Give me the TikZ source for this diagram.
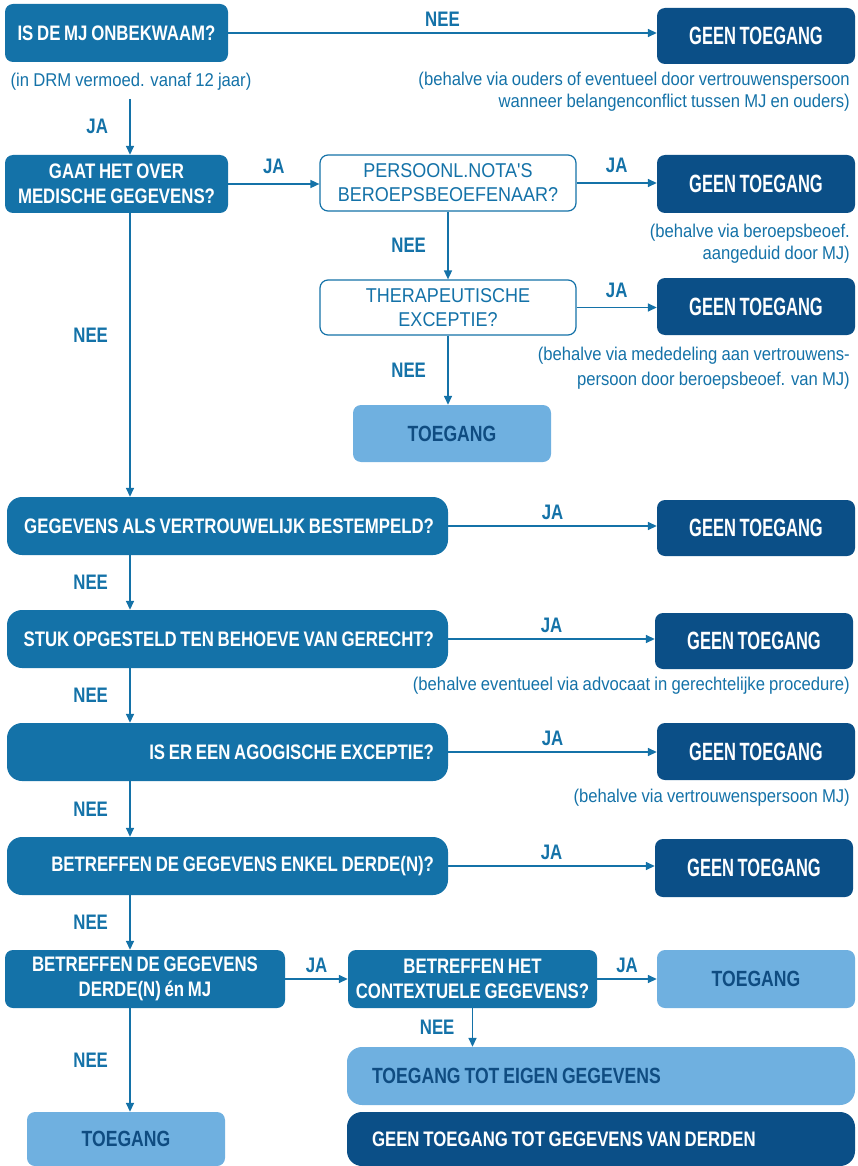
\documentclass[tikz,border=0pt]{standalone}
\usepackage{fontspec}
\usetikzlibrary{arrows.meta}
\newfontfamily\qfont{Liberation Sans}[FakeStretch=0.8, WordSpace=0.8]
\newfontfamily\gfont{Liberation Sans}[FakeStretch=0.66, WordSpace=0.8]
\newfontfamily\nfont{Liberation Sans}[FakeStretch=0.9, WordSpace=0.9]
\definecolor{qblue}{RGB}{20,114,168}
\definecolor{dblue}{RGB}{11,79,135}
\definecolor{lblue}{RGB}{111,176,224}
\definecolor{tblue}{RGB}{15,76,129}

\begin{document}
\begin{tikzpicture}[x=1pt,y=-1pt,
    qbox/.style={fill=qblue, text=white, rounded corners=8pt, inner sep=0pt, align=center,
      font=\qfont\bfseries\fontsize{21}{25}\selectfont},
    widebox/.style={qbox, rounded corners=15pt, minimum width=441pt, minimum height=58pt,
      inner xsep=14pt, text width=413pt, align=flush right},
    geen/.style={fill=dblue, text=white, rounded corners=8pt, inner sep=0pt,
      minimum width=198pt, font=\gfont\bfseries\fontsize{25}{28}\selectfont},
    toe/.style={fill=lblue, text=tblue, rounded corners=8pt, inner sep=0pt,
      minimum width=198pt, font=\qfont\bfseries\fontsize{22}{25}\selectfont},
    wbox/.style={draw=qblue, line width=1.2pt, fill=white, text=qblue, rounded corners=8pt,
      inner sep=0pt, align=center, minimum width=256pt,
      font=\nfont\fontsize{20}{24}\selectfont},
    lbl/.style={text=qblue, font=\qfont\bfseries\fontsize{21}{25}\selectfont},
    note/.style={text=qblue, align=right, inner sep=0pt, font=\nfont\fontsize{18.5}{22}\selectfont},
    arr/.style={draw=qblue, line width=1.5pt, -{Triangle[length=9pt,width=8pt]}}]

  \useasboundingbox (0,0) rectangle (857,1166);

  \node[qbox, minimum width=223pt, minimum height=58pt] (q1) at (116.5,33) {IS DE MJ ONBEKWAAM?};
  \node[geen, minimum height=56pt] (g1) at (756,36) {GEEN TOEGANG};
  \node[note, align=center] (drm) at (131,82) {(in DRM vermoed. vanaf 12 jaar)};
  \node[note, anchor=east] (g1n) at (850,92) {(behalve via ouders of eventueel door vertrouwenspersoon\\wanneer belangenconflict tussen MJ en ouders)};

  \node[qbox, minimum width=223pt, minimum height=58pt] (q2) at (116.5,184) {GAAT HET OVER\\MEDISCHE GEGEVENS?};
  \node[wbox, minimum height=56pt] (p1) at (448,183) {PERSOONL.NOTA'S\\BEROEPSBEOEFENAAR?};
  \node[geen, minimum height=58pt] (g2) at (756,184) {GEEN TOEGANG};
  \node[note, anchor=east] (g2n) at (850,244) {(behalve via beroepsbeoef.\\aangeduid door MJ)};

  \node[wbox, minimum height=55pt] (p2) at (448,307.5) {THERAPEUTISCHE\\EXCEPTIE?};
  \node[geen, minimum height=57pt] (g3) at (756,306.5) {GEEN TOEGANG};
  \node[note, anchor=east, font=\nfont\fontsize{18.5}{25}\selectfont] (g3n) at (850,368.5) {(behalve via mededeling aan vertrouwens-\\persoon door beroepsbeoef. van MJ)};
  \node[toe, minimum height=57pt] (t1) at (452,433.5) {TOEGANG};

  \node[widebox] (q3) at (227.5,526) {GEGEVENS ALS VERTROUWELIJK BESTEMPELD?};
  \node[geen, minimum height=56pt] (g4) at (756,528) {GEEN TOEGANG};

  \node[widebox] (q4) at (227.5,639) {STUK OPGESTELD TEN BEHOEVE VAN GERECHT?};
  \node[geen, minimum height=56pt] (g5) at (754,641) {GEEN TOEGANG};
  \node[note, anchor=east] (g5n) at (850,686) {(behalve eventueel via advocaat in gerechtelijke procedure)};

  \node[widebox] (q5) at (227.5,752) {IS ER EEN AGOGISCHE EXCEPTIE?};
  \node[geen, minimum height=57pt] (g6) at (756,751.5) {GEEN TOEGANG};
  \node[note, anchor=east] (g6n) at (850,798) {(behalve via vertrouwenspersoon MJ)};

  \node[widebox] (q6) at (227.5,866) {BETREFFEN DE GEGEVENS ENKEL DERDE(N)?};
  \node[geen, minimum height=58pt] (g7) at (754,868) {GEEN TOEGANG};

  \node[qbox, minimum width=280pt, minimum height=58pt] (q7) at (145,979) {BETREFFEN DE GEGEVENS\\DERDE(N) én MJ};
  \node[qbox, minimum width=249pt, minimum height=58pt] (q8) at (472.5,979) {BETREFFEN HET\\CONTEXTUELE GEGEVENS?};
  \node[toe, minimum height=58pt] (t2) at (756,979) {TOEGANG};
  \node[toe, rounded corners=15pt, minimum width=508pt, minimum height=58pt, inner xsep=25pt, text width=458pt, align=flush left] (t3) at (601,1076) {TOEGANG TOT EIGEN GEGEVENS};
  \node[geen, rounded corners=15pt, minimum width=508pt, minimum height=54pt, inner xsep=25pt, text width=458pt, align=flush left,
    font=\qfont\bfseries\fontsize{21}{25}\selectfont] (g8) at (601,1139) {GEEN TOEGANG TOT GEGEVENS VAN DERDEN};
  \node[toe, minimum height=54pt] (t4) at (126,1139) {TOEGANG};

  \coordinate (sp) at (130,0);

  \draw[arr] (q1.east) -- (q1.east -| g1.west) node[lbl, midway, above=2pt] {NEE};
  \draw[arr] (drm.south -| sp) ++(0,8) -- (q2.north -| sp) node[lbl, midway, left=18pt] {JA};
  \draw[arr] (q2.east) -- (q2.east -| p1.west) node[lbl, midway, above=6pt] {JA};
  \draw[arr] (p1.east) -- (p1.east -| g2.west) node[lbl, midway, above=6pt] {JA};
  \draw[arr] (p1.south) -- (p1.south |- p2.north) node[lbl, midway, left=18pt] {NEE};
  \draw[arr] (p2.east) -- (p2.east -| g3.west) node[lbl, midway, above=6pt] {JA};
  \draw[arr] (p2.south) -- (p2.south |- t1.north) node[lbl, midway, left=18pt] {NEE};
  \draw[arr] (q2.south -| sp) -- (q3.north -| sp) node[lbl, pos=0.43, left=18pt] {NEE};
  \draw[arr] (q3.east) -- (q3.east -| g4.west) node[lbl, midway, above=2pt] {JA};
  \draw[arr] (q3.south -| sp) -- (q4.north -| sp) node[lbl, midway, left=18pt] {NEE};
  \draw[arr] (q4.east) -- (q4.east -| g5.west) node[lbl, midway, above=2pt] {JA};
  \draw[arr] (q4.south -| sp) -- (q5.north -| sp) node[lbl, midway, left=18pt] {NEE};
  \draw[arr] (q5.east) -- (q5.east -| g6.west) node[lbl, midway, above=2pt] {JA};
  \draw[arr] (q5.south -| sp) -- (q6.north -| sp) node[lbl, midway, left=18pt] {NEE};
  \draw[arr] (q6.east) -- (q6.east -| g7.west) node[lbl, midway, above=2pt] {JA};
  \draw[arr] (q6.south -| sp) -- (q7.north -| sp) node[lbl, midway, left=18pt] {NEE};
  \draw[arr] (q7.east) -- (q8.west) node[lbl, midway, above=2pt] {JA};
  \draw[arr] (q8.east) -- (t2.west) node[lbl, midway, above=2pt] {JA};
  \draw[arr] (q8.south) -- (q8.south |- t3.north) node[lbl, midway, left=14pt] {NEE};
  \draw[arr] (q7.south -| sp) -- (t4.north -| sp) node[lbl, midway, left=18pt] {NEE};
\end{tikzpicture}
\end{document}
